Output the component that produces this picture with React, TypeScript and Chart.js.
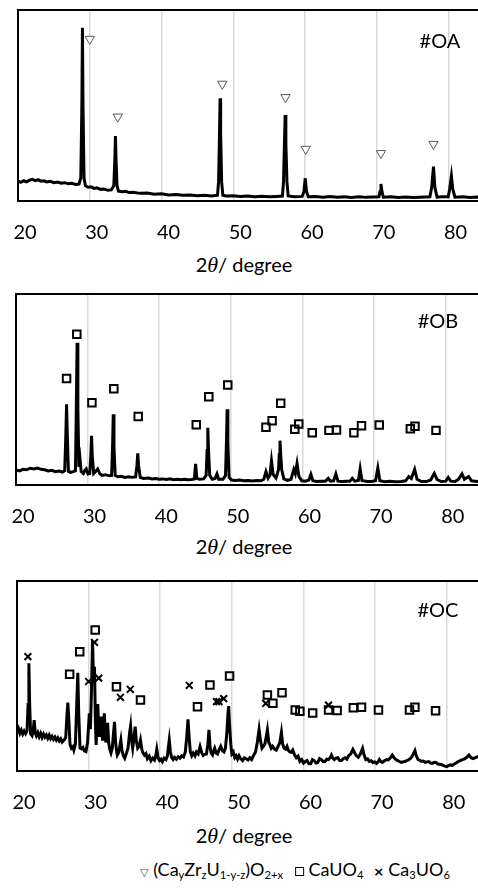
import React, { useEffect, useRef } from "react";
import { Chart, registerables } from "chart.js";

Chart.register(...registerables);

// ---------- shared axis ----------
const tickValues = [20, 30, 40, 50, 60, 70, 80];
const xMin = 20;
const xMax = 86;
const sampleLabels = ["#OA", "#OB", "#OC"];
const axisTitleNumber = "2";
const axisTitleSymbol = "θ";
const axisTitleUnit = "/ degree";

// ---------- #OA ----------
const oaAngle = [
  20.0, 20.4, 20.8, 21.2, 21.6, 22.0, 22.4, 22.8, 23.2, 23.6, 24.0, 24.5, 25.0, 25.5, 26.0, 26.5, 27.0, 27.5, 28.0, 28.5,
  28.75, 28.9, 28.98, 29.06, 29.2, 29.4, 29.8, 30.2, 30.6, 31.0, 31.5, 32.0, 32.5, 33.0,
  33.35, 33.5, 33.58, 33.66, 33.8, 34.0, 34.5, 35.0, 35.5, 36.0, 37.0, 38.0, 39.0, 40.0, 41.0, 42.0, 43.0, 44.0, 45.0, 46.0, 47.0,
  47.8, 47.95, 48.08, 48.16, 48.24, 48.38, 48.55, 49.0, 50.0, 51, 52, 53, 54, 55, 56,
  56.85, 57.0, 57.13, 57.23, 57.33, 57.48, 57.65, 58.5, 59.6, 59.85, 60.03, 60.2, 60.45,
  61.5, 62.5, 63.5, 64.5, 65.5, 66.5, 67.5, 68.5, 69.5, 70.3, 70.45, 70.58, 70.72, 70.9,
  72, 73, 74, 75, 76, 77.4, 77.65, 77.9, 78.1, 78.4, 79.0, 79.95, 80.15, 80.4, 80.6, 80.9, 82, 83, 84, 85, 86,
];
const oaIntensity = [
  10.4, 9.8, 10.6, 10.0, 10.9, 11.3, 10.7, 11.2, 10.4, 10.6, 10.0, 10.3, 9.6, 9.9, 9.3, 9.6, 9.0, 9.3, 8.7, 8.9,
  12, 50, 90.7, 50, 12, 8.0, 7.2, 7.4, 6.6, 6.9, 6.1, 6.3, 5.6, 5.8,
  8, 22, 34.0, 22, 8, 5.2, 4.9, 5.1, 4.4, 4.6, 4.0, 4.2, 3.6, 3.8, 3.2, 3.4, 3.0, 3.2, 2.8, 3.0, 2.6,
  3.0, 10, 35, 53.8, 35, 10, 3.0, 2.6, 2.8, 2.4, 2.6, 2.2, 2.5, 2.2, 2.4,
  2.6, 10, 30, 45.0, 30, 10, 2.6, 2.2, 2.4, 5, 11.9, 5, 2.2,
  2.4, 2.0, 2.3, 2.0, 2.2, 1.9, 2.2, 1.9, 2.1, 2.2, 5, 8.9, 5, 2.0,
  2.2, 1.8, 2.1, 1.8, 2.0, 2.2, 7, 18.0, 7, 2.0, 2.2, 2.2, 6, 13.1, 6, 2.0, 2.2, 1.8, 2.1, 1.9, 2.0,
];
const oaTriangleAngle = [30.0, 33.9, 48.47, 57.28, 60.1, 70.58, 77.9];
const oaTriangleHeight = [84.8, 44.1, 61.3, 54.3, 27.2, 25.0, 29.8];

// ---------- #OB ----------
const obAngle = [
  20.0, 20.5, 21.0, 21.5, 22.0, 22.5, 23.0, 23.5, 24.0, 24.5, 25.0, 25.5, 26.0, 26.5, 26.8, 26.95, 27.06, 27.17, 27.32, 27.6,
  28.0, 28.3, 28.42, 28.53, 28.64, 28.78, 28.94, 29.1, 29.4, 29.6, 29.8, 30.05, 30.3, 30.45, 30.55, 30.65, 30.85, 31.1, 31.4, 31.7,
  32.0, 32.5, 33.0, 33.35, 33.48, 33.58, 33.68, 33.85, 34.2, 34.7, 35.2, 35.7, 36.2, 36.7, 36.88, 37.0, 37.12, 37.35, 37.8, 38.5,
  39.0, 39.5, 40.0, 40.5, 41.0, 41.5, 42.0, 42.5, 43.0, 43.5, 44.0, 44.5, 44.9, 45.08, 45.25, 45.6, 46.2, 46.55, 46.68, 46.78,
  46.88, 47.05, 47.4, 47.8, 48.06, 48.3, 48.9, 49.25, 49.38, 49.48, 49.58, 49.75, 50.1, 50.6, 51.2, 51.8, 52.4, 53.0, 53.6, 54.2,
  54.6, 54.9, 55.2, 55.45, 55.67, 55.9, 56.3, 56.65, 56.76, 56.86, 56.96, 57.1, 57.4, 57.9, 58.4, 58.79, 59.0, 59.24, 59.5, 59.9,
  60.4, 60.9, 61.17, 61.45, 62.0, 62.6, 63.2, 63.6, 63.9, 64.35, 64.66, 64.95, 65.5, 66.1, 66.6, 66.95, 67.3, 67.8, 68.05, 68.3,
  69.0, 69.6, 70.2, 70.52, 70.8, 71.5, 72.2, 73.0, 73.8, 74.4, 74.84, 75.2, 75.66, 76.0, 76.6, 77.3, 77.9, 78.4, 78.8, 79.4,
  80.0, 80.35, 80.7, 81.3, 81.8, 82.27, 82.6, 83.2, 83.6, 84.3, 85.0, 86.0,
];
const obIntensity = [
  7.9, 7.4, 8.2, 8.0, 8.8, 8.4, 8.9, 8.2, 8.0, 7.4, 7.7, 7.0, 7.3, 6.8, 7.5, 25, 42.2, 25, 7.2, 6.6,
  7.0, 7.5, 40, 74.5, 40, 9.5, 13.6, 7.0, 6.0, 7.5, 8.4, 5.8, 6.0, 15, 25.7, 15, 6.0, 7.0, 8.4, 6.0,
  5.0, 5.4, 4.8, 5.0, 20, 37.0, 20, 5.0, 4.3, 4.6, 4.0, 4.3, 4.0, 4.2, 10, 16.6, 10, 4.0, 3.4, 3.6,
  3.2, 3.4, 3.0, 3.2, 2.9, 3.2, 2.8, 3.0, 2.7, 3.0, 2.7, 2.9, 3.2, 11.0, 3.5, 3.0, 3.2, 5, 18, 30.0,
  18, 5, 3.0, 3.4, 5.8, 3.0, 3.0, 5, 22, 39.6, 22, 4, 2.6, 2.4, 2.6, 2.2, 2.4, 2.1, 2.4, 2.2,
  3.0, 7.0, 3.5, 5, 12.7, 5.5, 3.6, 8, 16, 23.2, 16, 8, 3.2, 2.4, 3.0, 8.2, 6.0, 11.3, 4.5, 2.2,
  2.0, 2.6, 5.6, 2.2, 1.8, 2.0, 2.0, 3.5, 2.0, 2.2, 5.8, 2.0, 1.8, 1.9, 1.9, 3.5, 2.0, 2.4, 8.5, 2.4,
  1.8, 1.8, 2.2, 8.9, 2.2, 1.7, 1.9, 1.7, 1.8, 2.2, 4.4, 3.4, 8.2, 3.0, 1.8, 1.8, 2.6, 6.1, 2.8, 1.8,
  2.0, 4.0, 2.0, 1.8, 3.0, 5.8, 3.0, 4.4, 2.2, 1.8, 2.2, 1.8,
];
const obSquareAngle = [
  27.06, 28.49, 30.6, 33.66, 37.06, 45.17, 46.92, 49.57, 54.9, 55.76, 56.96, 58.93, 59.48, 61.36, 63.7, 64.75, 67.18, 68.24, 70.72, 75.06, 75.71, 78.64,
];
const obSquareHeight = [
  55.7, 78.9, 43.1, 50.4, 35.8, 31.6, 46.2, 52.4, 30.2, 33.7, 42.8, 29.2, 31.9, 27.4, 28.6, 28.8, 27.4, 31.0, 31.4, 29.5, 30.7, 28.6,
];

// ---------- #OC ----------
const ocAngle = [
  20.0, 20.2, 20.4, 20.6, 20.8, 21.0, 21.2, 21.4, 21.55, 21.66, 21.77, 21.9, 22.1, 22.25, 22.4, 22.55, 22.7, 22.9, 23.1, 23.3,
  23.5, 23.7, 23.9, 24.1, 24.3, 24.5, 24.7, 24.9, 25.1, 25.3, 25.5, 25.7, 25.9, 26.1, 26.3, 26.57, 26.8, 26.95, 27.1, 27.25,
  27.4, 27.6, 27.8, 27.94, 28.15, 28.35, 28.49, 28.62, 28.8, 29.0, 29.2, 29.4, 29.63, 29.85, 30.1, 30.25, 30.42, 30.55, 30.68, 30.82,
  30.95, 31.05, 31.18, 31.28, 31.4, 31.5, 31.62, 31.74, 31.85, 31.95, 32.08, 32.2, 32.3, 32.4, 32.52, 32.65, 32.8, 32.95, 33.12, 33.3,
  33.48, 33.61, 33.75, 33.88, 34.0, 34.2, 34.35, 34.5, 34.65, 34.85, 35.04, 35.25, 35.5, 35.72, 35.86, 36.0, 36.15, 36.32, 36.5, 36.65,
  36.85, 37.05, 37.24, 37.45, 37.6, 37.79, 38.0, 38.2, 38.45, 38.7, 38.95, 39.2, 39.38, 39.52, 39.7, 39.9, 40.1, 40.3, 40.55, 40.8,
  41.0, 41.12, 41.26, 41.42, 41.6, 41.8, 42.0, 42.25, 42.5, 42.75, 43.0, 43.25, 43.5, 43.7, 43.87, 44.05, 44.2, 44.4, 44.6, 44.85,
  45.05, 45.3, 45.56, 45.8, 46.0, 46.2, 46.45, 46.65, 46.8, 46.95, 47.1, 47.3, 47.45, 47.6, 47.8, 48.0, 48.2, 48.45, 48.7, 48.9,
  49.1, 49.3, 49.45, 49.55, 49.68, 49.85, 50.0, 50.2, 50.4, 50.6, 50.8, 51.0, 51.2, 51.5, 51.75, 52.0, 52.25, 52.5, 52.75, 53.0,
  53.3, 53.55, 53.8, 54.0, 54.2, 54.4, 54.6, 54.8, 54.96, 55.15, 55.3, 55.5, 55.7, 55.95, 56.2, 56.45, 56.7, 56.92, 57.1, 57.3,
  57.5, 57.7, 57.9, 58.1, 58.3, 58.5, 58.75, 59.0, 59.25, 59.5, 59.75, 60.0, 60.25, 60.5, 60.75, 61.0, 61.25, 61.5, 61.75, 62.0,
  62.25, 62.5, 62.75, 63.0, 63.25, 63.5, 63.75, 63.9, 64.1, 64.3, 64.55, 64.8, 65.05, 65.3, 65.55, 65.8, 66.05, 66.3, 66.6, 66.9,
  67.15, 67.4, 67.65, 67.9, 68.05, 68.25, 68.45, 68.7, 68.95, 69.2, 69.45, 69.7, 69.95, 70.2, 70.45, 70.6, 70.8, 71.0, 71.3, 71.6,
  71.85, 72.1, 72.4, 72.65, 72.9, 73.15, 73.4, 73.65, 73.9, 74.15, 74.4, 74.65, 74.9, 75.15, 75.4, 75.56, 75.75, 76.0, 76.25, 76.5,
  76.75, 77.0, 77.25, 77.5, 77.75, 78.0, 78.25, 78.5, 78.75, 79.0, 79.25, 79.5, 79.75, 80.0, 80.25, 80.5, 80.75, 81.0, 81.3, 81.6,
  81.9, 82.2, 82.5, 82.8, 83.1, 83.4, 83.7, 84.0, 84.5, 85.0, 85.5, 86.0,
];
const ocIntensity = [
  20.7, 22.4, 19.8, 21.5, 19.4, 21.0, 19.6, 21.2, 35, 56.7, 35, 19.5, 18.6, 21, 26.8, 20, 18.5, 20.2, 18.0, 19.8,
  17.6, 19.4, 17.8, 19.0, 17.2, 18.9, 17.0, 18.2, 16.6, 17.8, 16.2, 17.4, 15.8, 16.9, 15.2, 16.3, 17.5, 28, 36.0, 26,
  14, 12.0, 12.8, 11.0, 14, 36, 51.7, 30, 12.0, 11.6, 12.4, 10.6, 10.2, 15, 30.4, 22, 45, 68.9, 48, 54.9,
  25, 13.7, 26, 35.3, 22, 18, 24, 28.6, 20, 16, 24, 30.4, 20, 15, 20, 25.4, 15, 11.5, 9.5, 12,
  20, 25.9, 16, 11, 8.4, 9.8, 13, 16.3, 11, 8, 6.7, 9, 12, 20, 23.7, 16, 12, 17, 23.3, 16,
  12, 13, 16.3, 11, 9.5, 8.4, 9.2, 6.5, 7.8, 5.4, 6.8, 5.8, 8, 11.4, 7, 5.5, 6.2, 4.9, 6.8, 6.0,
  8, 12, 16.3, 10, 7, 6.0, 7.2, 6.2, 7.5, 6.8, 8.0, 7.4, 10, 18, 27.2, 17, 10, 8.0, 9.5, 8.0,
  10, 9, 12.8, 9.5, 8.2, 8.8, 9, 14, 21.6, 13, 9.5, 8.5, 10.5, 12, 9.5, 9.0, 11, 13, 10.5, 10.0,
  12, 20, 30, 34.2, 24, 14, 9.0, 10, 7.0, 8.0, 6.2, 8.0, 6.6, 5.5, 7.0, 6.5, 5.8, 7.0, 6.0, 8.0,
  10, 15, 21.9, 16, 12.0, 13, 14, 18, 21.6, 15, 14.0, 12, 13.0, 11.5, 11.0, 13, 15, 20.3, 14, 12.0,
  11.5, 13.0, 10.8, 10.0, 9.8, 11.0, 8.5, 7.0, 7.8, 5.0, 6.0, 4.2, 5.0, 5.5, 3.8, 3.8, 6.0, 5.5, 4.2, 4.5,
  6.5, 6.0, 5.0, 5.0, 6.2, 6.0, 7.2, 8.4, 6.8, 6.0, 6.8, 7.0, 5.5, 5.5, 6.5, 7.0, 6.2, 8.0, 9.0, 11.4,
  9.5, 8.0, 7.2, 8.6, 10, 11.9, 8.5, 6.0, 6.4, 5.0, 5.4, 4.5, 4.8, 4.0, 5.0, 6.0, 5.0, 4.5, 5.4, 6.0,
  5.8, 6.8, 8.4, 7.0, 6.0, 5.5, 5.0, 4.5, 4.8, 5.0, 5.5, 5.8, 6.5, 7.5, 9.5, 10.7, 8.0, 6.0, 5.6, 5.0,
  5.2, 4.5, 4.8, 5.0, 4.2, 4.0, 4.6, 4.5, 3.6, 3.5, 3.4, 3.0, 2.6, 2.3, 2.8, 3.2, 2.9, 3.5, 4.2, 5.0,
  5.5, 6.0, 6.4, 7.2, 8.4, 7.0, 6.5, 7.0, 7.8, 8.0, 7.2, 7.0,
];
const ocSquareAngle = [
  27.35, 28.76, 30.92, 33.89, 37.24, 45.2, 46.94, 49.68, 54.96, 55.73, 57.0, 58.85, 59.5, 61.28, 63.5, 64.7, 66.96, 68.1, 70.47, 74.8, 75.56, 78.44,
];
const ocSquareHeight = [
  50.9, 62.8, 74.2, 44.4, 37.4, 33.8, 45.3, 50.0, 40.0, 35.6, 41.2, 32.1, 31.4, 30.5, 32.1, 31.9, 33.3, 33.5, 32.1, 32.1, 33.5, 31.7,
];
const ocCrossAngle = [21.52, 30.0, 30.82, 31.42, 34.44, 35.81, 44.05, 47.86, 48.2, 48.86, 54.73, 63.5];
const ocCrossHeight = [60.2, 47.1, 67.7, 48.9, 38.8, 43.0, 45.1, 36.5, 36.5, 38.1, 35.6, 34.7];

// ---------- helpers ----------
const pts = (xs: number[], ys: number[]) => xs.map((x, i) => ({ x, y: ys[i] }));

const framePlugin = {
  id: "frame",
  afterDraw(chart: any) {
    const { ctx, chartArea } = chart;
    ctx.save();
    ctx.strokeStyle = "#000";
    ctx.lineWidth = 2;
    ctx.strokeRect(chartArea.left, chartArea.top, chartArea.right - chartArea.left, chartArea.bottom - chartArea.top);
    ctx.restore();
  },
};

type PanelCfg = {
  top: number;
  left: number;
  plotH: number;
  datasets: any[];
};

const AXIS_H = 45;
const PAD_TOP = 10;
const PX_WIDTH = 480;

function Panel({ cfg }: { cfg: PanelCfg }) {
  const ref = useRef<HTMLCanvasElement | null>(null);
  const width = cfg.left + PX_WIDTH;
  const height = PAD_TOP + cfg.plotH + AXIS_H;
  useEffect(() => {
    if (!ref.current) return;
    const chart = new Chart(ref.current, {
      type: "line",
      data: { datasets: cfg.datasets },
      options: {
        responsive: false,
        animation: false,
        devicePixelRatio: 1,
        layout: { padding: { left: cfg.left, top: PAD_TOP, right: 0, bottom: 0 } },
        plugins: { legend: { display: false }, tooltip: { enabled: false } },
        events: [],
        scales: {
          x: {
            type: "linear",
            min: xMin,
            max: xMax,
            afterBuildTicks: (s: any) => {
              s.ticks = tickValues.map((v) => ({ value: v }));
            },
            afterFit: (s: any) => {
              s.height = AXIS_H;
              s.paddingLeft = 0;
              s.paddingRight = 0;
            },
            grid: { color: "#d9d9d9", lineWidth: 1.5, drawTicks: false },
            border: { display: false },
            ticks: {
              font: { family: "Lato", size: 20 },
              color: "#000",
              padding: 20,
              labelOffset: 7,
              maxRotation: 0,
              autoSkip: false,
            },
          },
          y: { display: false, min: 0, max: 100 },
        },
      } as any,
      plugins: [framePlugin],
    });
    return () => chart.destroy();
  }, []);
  return (
    <canvas
      ref={ref}
      width={width}
      height={height}
      style={{ position: "absolute", left: 0, top: cfg.top - PAD_TOP, width, height }}
    />
  );
}

const lineDs = (xs: number[], ys: number[]) => ({
  type: "line",
  data: pts(xs, ys),
  borderColor: "#000",
  borderWidth: 3,
  pointRadius: 0,
  tension: 0,
  order: 2,
});

const triDs = {
  type: "scatter",
  data: pts(oaTriangleAngle, oaTriangleHeight),
  pointStyle: "triangle",
  rotation: 180,
  pointRadius: 5.4,
  borderColor: "#595959",
  backgroundColor: "#fff",
  borderWidth: 1,
  order: 1,
};
const sqDs = (xs: number[], ys: number[]) => ({
  type: "scatter",
  data: pts(xs, ys),
  pointStyle: "rect",
  pointRadius: 5.3,
  borderColor: "#000",
  backgroundColor: "rgba(0,0,0,0)",
  borderWidth: 2,
  order: 1,
});
const crossDs = {
  type: "scatter",
  data: pts(ocCrossAngle, ocCrossHeight),
  pointStyle: "crossRot",
  pointRadius: 4.8,
  borderColor: "#000",
  borderWidth: 2,
  order: 0,
};

const panels: PanelCfg[] = [
  { top: 10, left: 18, plotH: 191, datasets: [lineDs(oaAngle, oaIntensity), triDs] },
  { top: 294, left: 16, plotH: 191, datasets: [lineDs(obAngle, obIntensity), sqDs(obSquareAngle, obSquareHeight)] },
  {
    top: 581,
    left: 17,
    plotH: 190,
    datasets: [lineDs(ocAngle, ocIntensity), sqDs(ocSquareAngle, ocSquareHeight), crossDs],
  },
];

const FONT = "Lato, 'Open Sans', sans-serif";

function Txt({ x, y, size, children }: { x: number; y: number; size: number; children: any }) {
  return (
    <div
      style={{
        position: "absolute",
        left: x,
        top: y - size * 0.53,
        transform: "translateX(-50%)",
        fontFamily: FONT,
        fontSize: size,
        lineHeight: `${size}px`,
        whiteSpace: "nowrap",
        color: "#000",
      }}
    >
      {children}
    </div>
  );
}

const subStyle: React.CSSProperties = { fontSize: "0.62em", verticalAlign: "-0.28em", lineHeight: 0 };

function AxisTitle({ y }: { y: number }) {
  return (
    <Txt x={244} y={y} size={20}>
      {axisTitleNumber}
      <span style={{ fontFamily: "'Liberation Serif', serif", fontStyle: "italic", fontSize: 22 }}>{axisTitleSymbol}</span>
      {axisTitleUnit}
    </Txt>
  );
}

export default function App() {
  return (
    <div
      style={{
        position: "fixed",
        left: 0,
        top: 0,
        width: 478,
        height: 896,
        overflow: "hidden",
        background: "#fff",
      }}
    >
      {panels.map((p, i) => (
        <Panel key={i} cfg={p} />
      ))}
      <Txt x={440} y={41} size={20}>{sampleLabels[0]}</Txt>
      <Txt x={438} y={321} size={20}>{sampleLabels[1]}</Txt>
      <Txt x={438} y={610} size={20}>{sampleLabels[2]}</Txt>
      <AxisTitle y={265} />
      <AxisTitle y={547} />
      <AxisTitle y={836} />
      <Txt x={295} y={870} size={18}>
        <span style={{ fontFamily: "'DejaVu Sans', sans-serif", fontSize: 11, color: "#555" }}>▽</span>{" "}
        (Ca<sub style={subStyle}>y</sub>Zr<sub style={subStyle}>z</sub>U<sub style={subStyle}>1-y-z</sub>)O
        <sub style={subStyle}>2+x</sub>
        {"  "}
        <span
          style={{
            display: "inline-block",
            width: 7,
            height: 7,
            border: "1.5px solid #000",
            marginLeft: 8,
            marginRight: 4,
            verticalAlign: "0.05em",
          }}
        />
        CaUO<sub style={subStyle}>4</sub>
        <span style={{ fontFamily: "'DejaVu Sans', sans-serif", fontSize: 13, fontWeight: "bold", marginLeft: 10, marginRight: 4 }}>×</span>
        Ca<sub style={subStyle}>3</sub>UO<sub style={subStyle}>6</sub>
      </Txt>
    </div>
  );
}
